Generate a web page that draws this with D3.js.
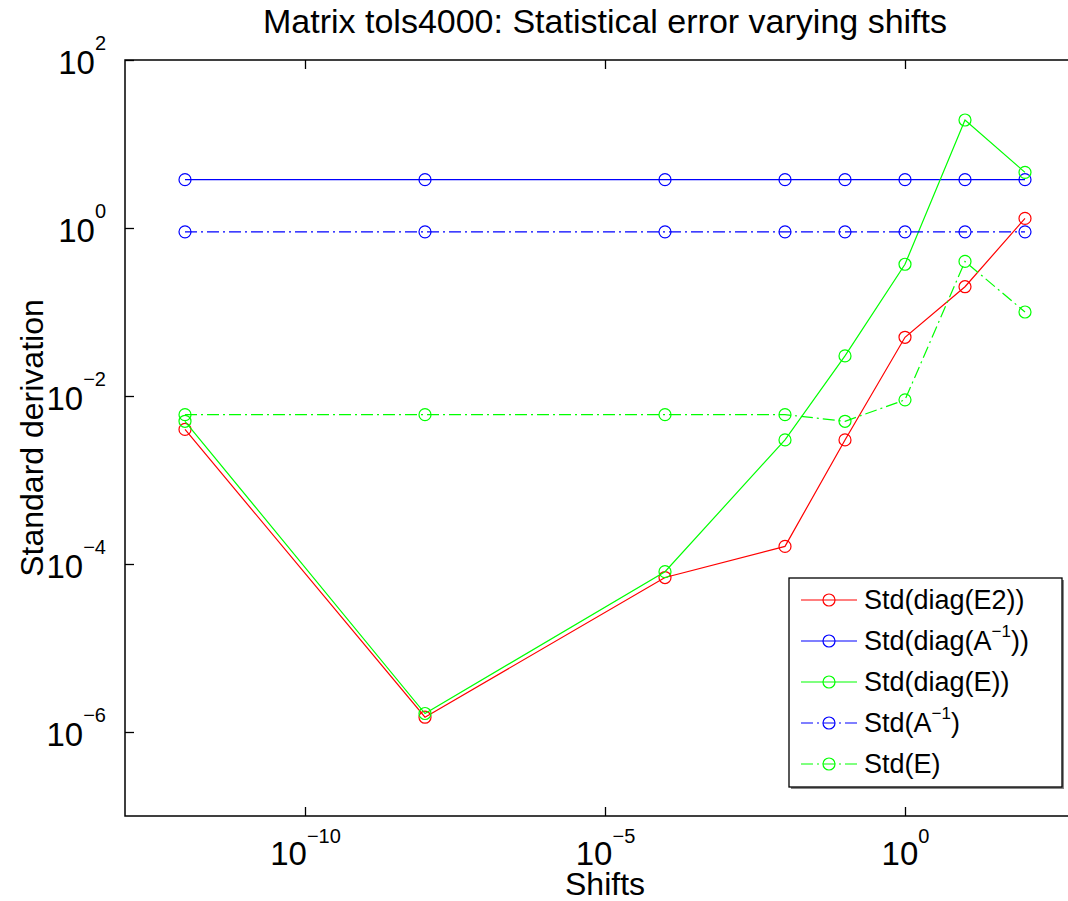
<!DOCTYPE html>
<html lang="en">
<head>
<meta charset="UTF-8">
<title>Matrix tols4000: Statistical error varying shifts</title>
<script src="https://d3js.org/d3.v7.min.js"></script>
<style>
    body { margin: 0; background: white; overflow: hidden; }
    svg { display: block; font-family: "Liberation Sans", Arial, Helvetica, sans-serif; }
    .axis text { fill: black; }
    .axis line { stroke: black; stroke-width: 1.3; }
</style>
</head>
<body>
<script>

// shifts (x) and the five series
var shifts = [1e-12, 1e-8, 1e-4, 1e-2, 1e-1, 1, 10, 100];

var stdDiagE2   = [0.0040, 1.5e-6, 6.9e-5, 1.62e-4, 0.0030, 0.050, 0.20, 1.30];
var stdDiagAinv = [3.76, 3.76, 3.76, 3.76, 3.76, 3.76, 3.76, 3.76];
var stdDiagE    = [0.0050, 1.66e-6, 8.1e-5, 0.0030, 0.030, 0.37, 19.3, 4.6];
var stdAinv     = [0.90, 0.90, 0.90, 0.90, 0.90, 0.90, 0.90, 0.90];
var stdE        = [0.0060, 0.0060, 0.0060, 0.0060, 0.0050, 0.0090, 0.40, 0.10];

var xTicks = [-10, -5, 0];          // exponents
var yTicks = [2, 0, -2, -4, -6];

var series = [
    {name: ["Std(diag(E2))"],               values: stdDiagE2,   color: "#ff0000", dash: null},
    {name: ["Std(diag(A", "\u22121", "))"], values: stdDiagAinv, color: "#0000ff", dash: null},
    {name: ["Std(diag(E))"],                values: stdDiagE,    color: "#00ff00", dash: null},
    {name: ["Std(A", "\u22121", ")"],       values: stdAinv,     color: "#0000ff", dash: "12,4,2,4"},
    {name: ["Std(E)"],                      values: stdE,        color: "#00ff00", dash: "12,4,2,4"}
];

var W = 1068, H = 901;
var m = {left: 125, right: 1085, top: 60, bottom: 816};

var svg = d3.select("body").append("svg")
    .attr("width", W)
    .attr("height", H);

var x = d3.scaleLog().domain([1e-13, 1e3]).range([m.left, m.right]);
var y = d3.scaleLog().domain([1e-7, 1e2]).range([m.bottom, m.top]);

// title and axis labels
svg.append("text")
    .attr("x", (m.left + m.right) / 2).attr("y", 33)
    .attr("text-anchor", "middle")
    .style("font-size", "34px")
    .text("Matrix tols4000: Statistical error varying shifts");

svg.append("text")
    .attr("x", (m.left + m.right) / 2).attr("y", 895)
    .attr("text-anchor", "middle")
    .style("font-size", "32px")
    .text("Shifts");

svg.append("text")
    .attr("transform", "translate(43," + ((m.top + m.bottom) / 2) + ") rotate(-90)")
    .attr("text-anchor", "middle")
    .style("font-size", "32px")
    .text("Standard derivation");

// axes, ticks pointing inward like matlab
var xAxis = d3.axisBottom(x)
    .tickValues(xTicks.map(function(e) { return Math.pow(10, e); }))
    .tickSizeInner(-9).tickSizeOuter(0);

var gx = svg.append("g").attr("class", "axis")
    .attr("transform", "translate(0," + m.bottom + ")")
    .call(xAxis);

gx.selectAll(".tick text").each(function(d, i) {
    var t = d3.select(this).text(null)
        .attr("y", 49).attr("dy", null)
        .attr("text-anchor", "middle");
    t.append("tspan").style("font-size", "33px").text("10");
    t.append("tspan").style("font-size", "20px").attr("dy", -22)
        .text(xTicks[i] < 0 ? "\u2212" + (-xTicks[i]) : xTicks[i]);
});

var yAxis = d3.axisLeft(y)
    .tickValues(yTicks.map(function(e) { return Math.pow(10, e); }))
    .tickSizeInner(-9).tickSizeOuter(0);

var gy = svg.append("g").attr("class", "axis")
    .attr("transform", "translate(" + m.left + ",0)")
    .call(yAxis);

gy.selectAll(".tick text").each(function(d, i) {
    var t = d3.select(this).text(null)
        .attr("x", -19).attr("dy", null).attr("y", 13)
        .attr("text-anchor", "end");
    t.append("tspan").style("font-size", "33px").text("10");
    t.append("tspan").style("font-size", "20px").attr("dy", -24)
        .text(yTicks[i] < 0 ? "\u2212" + (-yTicks[i]) : yTicks[i]);
});

svg.append("g").attr("class", "axis")
    .attr("transform", "translate(0," + m.top + ")")
    .call(d3.axisTop(x).tickValues(xAxis.tickValues()).tickSizeInner(-9).tickSizeOuter(0).tickFormat(""));

svg.append("g").attr("class", "axis")
    .attr("transform", "translate(" + m.right + ",0)")
    .call(d3.axisRight(y).tickValues(yAxis.tickValues()).tickSizeInner(-9).tickSizeOuter(0).tickFormat(""));

svg.selectAll(".axis .domain").remove();

svg.append("rect")
    .attr("x", m.left).attr("y", m.top)
    .attr("width", m.right - m.left).attr("height", m.bottom - m.top)
    .attr("fill", "none").attr("stroke", "black").attr("stroke-width", 1.5);

// data lines + circle markers
var line = d3.line()
    .x(function(d) { return x(d[0]); })
    .y(function(d) { return y(d[1]); });

var plot = svg.append("g");

series.forEach(function(s) {
    var pts = shifts.map(function(v, i) { return [v, s.values[i]]; });
    plot.append("path")
        .datum(pts)
        .attr("d", line)
        .attr("fill", "none")
        .attr("stroke", s.color)
        .attr("stroke-width", 1.2)
        .attr("stroke-dasharray", s.dash);
    plot.selectAll(null)
        .data(pts)
        .enter().append("circle")
        .attr("cx", function(d) { return x(d[0]); })
        .attr("cy", function(d) { return y(d[1]); })
        .attr("r", 6)
        .attr("fill", "none")
        .attr("stroke", s.color)
        .attr("stroke-width", 1.2);
});

// legend
var lx = 789, ly = 578, lw = 273, lh = 209;
var legend = svg.append("g");

legend.append("rect")
    .attr("x", lx + 2).attr("y", ly + 2).attr("width", lw).attr("height", lh)
    .attr("fill", "#888");
legend.append("rect")
    .attr("x", lx).attr("y", ly).attr("width", lw).attr("height", lh)
    .attr("fill", "white").attr("stroke", "black").attr("stroke-width", 1.3);

series.forEach(function(s, i) {
    var cy = 600 + i * 41;
    legend.append("line")
        .attr("x1", 801).attr("x2", 857).attr("y1", cy).attr("y2", cy)
        .attr("stroke", s.color).attr("stroke-width", 1.2)
        .attr("stroke-dasharray", s.dash);
    legend.append("circle")
        .attr("cx", 829).attr("cy", cy).attr("r", 6)
        .attr("fill", "none").attr("stroke", s.color).attr("stroke-width", 1.2);
    var t = legend.append("text")
        .attr("x", 864).attr("y", cy + 9)
        .style("font-size", "27px");
    t.append("tspan").text(s.name[0]);
    if (s.name.length > 1) {
        t.append("tspan").style("font-size", "17px").attr("dy", -13).text(s.name[1]);
        t.append("tspan").attr("dy", 13).text(s.name[2]);
    }
});

</script>
</body>
</html>
